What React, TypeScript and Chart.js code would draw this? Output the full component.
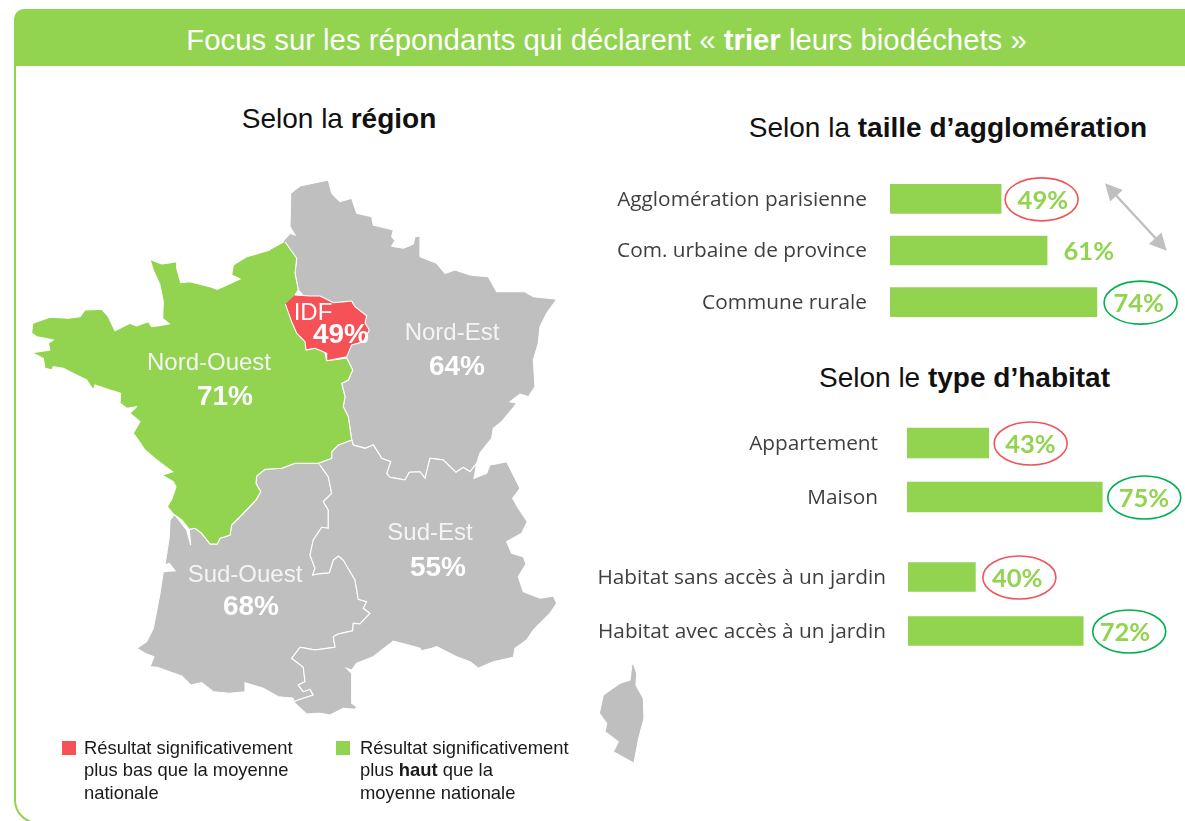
import React, { useEffect, useRef } from "react";
import { Chart, registerables } from "chart.js";

Chart.register(...registerables);

const GREEN = "#92D350";
const RED = "#F55157";
const GREY = "#BFBFBF";
const ELLIPSE_RED = "#F0555A";
const ELLIPSE_GREEN = "#00B050";
const LABEL = "#3F3F3F";

type P = number[];

const nordEst: P[] = [[283.3,241],[290,233.3],[295,235],[290,226.7],[290.7,193.3],[300,186],[328.3,180],[331.7,193.3],[340,201.7],[351.7,198.3],[356.7,213.3],[371.7,216.7],[373.3,225],[393.3,230],[391.7,236.7],[395,240.7],[391.7,246],[403.3,248.3],[413.3,244],[415,236.7],[420,236],[420,256.7],[436.7,263.3],[445,273.3],[455,270],[470,275],[488.3,276.7],[496.7,291.7],[525,291.7],[533.3,296.7],[556.7,299.3],[546.7,313.3],[540,326.7],[538.3,343.3],[533.3,360],[535,386.7],[528.3,396.7],[520,394],[510,401.7],[516.7,403.3],[501.7,421.7],[493.3,428.3],[491.7,438.3],[480,453],[476.7,463.3],[470,471.7],[463.3,467.3],[456,472.3],[443.3,460],[430,458.3],[425,478.3],[420,471.7],[409.3,472.3],[405,480],[390,477.3],[386.7,473.3],[390.7,461.7],[381.7,458.3],[373.3,445],[365,448.3],[353.3,445],[351.7,440],[348.3,416.7],[343.3,406.7],[345,396.7],[341.7,383.3],[348.3,380],[352.7,370],[346.7,358],[335,330],[298.3,290],[295,273.3],[296.7,258.3]];

const sudOuest: P[] = [[173.3,516],[170,520],[169.3,536.7],[165,565],[169.3,563.3],[175,570.7],[163.3,571.7],[160,593.3],[153.3,628.3],[146.7,641.7],[136.7,648.3],[145,653.3],[154,656.7],[150,666.7],[157.3,667.3],[181.7,676],[190.7,685],[201.7,682.7],[213.3,691.7],[229.3,693.3],[245,691.7],[245,682.7],[263.3,688.3],[278.3,696.7],[293.3,698.3],[293.3,701.7],[313.3,695],[310,689.3],[303.3,691.7],[298.3,685],[305,681.7],[303.3,667.3],[291.7,658.3],[300,647.3],[315,650],[335,647.3],[333.3,636.7],[338.3,634],[352.7,630.7],[353.3,623.3],[360,624],[370,613.3],[363.3,608.3],[366.7,601.7],[358.3,599.3],[355,580],[343.3,560],[338.3,556],[333.3,560],[329.3,572.7],[316.7,574],[312.7,575],[315,568.3],[310,555],[313.3,540],[321.7,527.3],[328.3,528.3],[328.3,510],[323.3,501.7],[331.7,493.3],[328.3,476.7],[320,465],[318.3,463.3],[295,463.3],[281.7,468.3],[265,469.3],[256.7,476],[256,483.3],[260.7,491.7],[256,500],[241.7,515],[231.7,525],[230,535],[220,538.3],[217.3,544],[210,544],[201.7,533.3],[195,528.3],[189.3,529.3],[190.7,545],[186.7,530],[175,515]];

const sudEst: P[] = [[318.3,463.3],[331.7,458.3],[331.7,451.7],[338.3,445],[351.7,440],[353.3,445],[365,448.3],[373.3,445],[381.7,458.3],[390.7,461.7],[386.7,473.3],[390,477.3],[405,480],[409.3,472.3],[420,471.7],[425,478.3],[430,458.3],[443.3,460],[456,472.3],[463.3,467.3],[470,471.7],[476.7,463.3],[474,478.3],[486.7,473.3],[490,465],[506.7,461.7],[511.7,471.7],[520,488.3],[512.7,498.3],[518.3,508.3],[527.3,521.7],[521.7,533.3],[506.7,541.7],[511.7,553.3],[523.3,556.7],[526,564],[518.3,576.7],[523.3,591.7],[540,598.3],[553.3,596],[556.7,603.3],[550,613.3],[533.3,630],[526.7,640],[515,648.3],[513.3,657.3],[493.3,661.7],[478.3,668.3],[470,661.7],[456.7,656.7],[436.7,646.7],[431.7,648.3],[421.7,650.7],[420,648.3],[393.3,641],[373.3,656.7],[356.7,663.3],[351.7,670],[346.7,668.3],[351.7,673.3],[351.7,703.3],[356.7,706.7],[355,709.3],[343.3,708.3],[330,715],[320,713.3],[306.7,714],[293.3,701.7],[313.3,695],[310,689.3],[303.3,691.7],[298.3,685],[305,681.7],[303.3,667.3],[291.7,658.3],[300,647.3],[315,650],[335,647.3],[333.3,636.7],[338.3,634],[352.7,630.7],[353.3,623.3],[360,624],[370,613.3],[363.3,608.3],[366.7,601.7],[358.3,599.3],[355,580],[343.3,560],[338.3,556],[333.3,560],[329.3,572.7],[316.7,574],[312.7,575],[315,568.3],[310,555],[313.3,540],[321.7,527.3],[328.3,528.3],[328.3,510],[323.3,501.7],[331.7,493.3],[328.3,476.7],[320,465]];

const nordOuest: P[] = [[285,241.7],[296.7,258.3],[295,273.3],[298.3,290],[295,295],[320,330],[326.7,360.7],[346.7,358],[352.7,370],[348.3,380],[341.7,383.3],[345,396.7],[343.3,406.7],[348.3,416.7],[351.7,440],[338.3,445],[331.7,451.7],[331.7,458.3],[318.3,463.3],[295,463.3],[281.7,468.3],[265,469.3],[256.7,476],[256,483.3],[260.7,491.7],[256,500],[241.7,515],[231.7,525],[230,535],[220,538.3],[217.3,544],[210,544],[201.7,533.3],[195,528.3],[189.3,529.3],[181.7,520],[173.3,514],[167.3,506.7],[171.7,499.3],[176,486.7],[173.3,481.7],[162,475],[172.7,471.7],[156.7,460],[145,450],[138.3,440],[133.3,433.3],[140,421.7],[130,413.3],[136.7,406.7],[126.7,408.3],[120,403.3],[120.7,393.3],[110,390],[95,385],[93.3,390],[86.7,380],[63.3,368.3],[53.3,366.7],[51.7,370],[45,368.3],[43.3,358.3],[31.7,352.7],[50,350],[48.3,343.3],[53.3,340],[36.7,336.7],[31.7,333.3],[32.7,323.3],[50,317.3],[68.3,318.3],[80,316.7],[85,310],[101.7,309.3],[108.3,316.7],[115,330.7],[130,323.3],[136.7,326],[148.3,321.7],[151.7,326.7],[169.3,324],[162.7,318.3],[163.3,301.7],[160,285],[153.3,270],[150,259.3],[161.7,264],[176.7,261.7],[176.7,268.3],[180.7,282.7],[190,281.7],[210,286.7],[217.3,289.3],[240,279],[231.7,275],[233.3,265],[246.7,256.7],[270,250]];

const idf: P[] = [[295,295],[310,296],[320,296],[333.3,302.7],[351.7,301],[355,306.7],[366.7,315.7],[365,323],[369.3,330],[363.3,341.7],[351.7,345],[346.7,356.7],[326.7,360.7],[326.7,353.3],[315,348.3],[306,350],[305,341.7],[296.7,333.3],[291.7,321.7],[285.3,304]];

const corse: P[] = [[633.3,663.3],[636.7,673.3],[636,685],[643.3,698.3],[644,718.3],[638.3,740],[634,763.3],[613.3,751.7],[618.3,741.7],[605,731.7],[606.7,723.3],[599.3,713.3],[603.3,695],[620,683.3],[630,680],[631.7,666.7]];

const agglomeration = ["Agglomération parisienne", "Com. urbaine de province", "Commune rurale"];
const agglomerationValues = [49, 61, 74];
const agglomerationMarks = ["low", "", "high"];

const logement = ["Appartement", "Maison"];
const logementValues = [43, 75];
const logementMarks = ["low", "high"];

const jardin = ["Habitat sans accès à un jardin", "Habitat avec accès à un jardin"];
const jardinValues = [40, 72];
const jardinMarks = ["low", "high"];

const valueLabels = {
  id: "valueLabels",
  afterDatasetsDraw(chart: any) {
    const { ctx } = chart;
    const ds = chart.data.datasets[0];
    const meta = chart.getDatasetMeta(0);
    ctx.save();
    meta.data.forEach((bar: any, i: number) => {
      const mark = ds.marks[i];
      if (mark) {
        ctx.beginPath();
        ctx.ellipse(bar.x + ds.ellipseOffset[i], bar.y + 0.5, 36.5, 21.5, 0, 0, Math.PI * 2);
        ctx.strokeStyle = mark === "low" ? ELLIPSE_RED : ELLIPSE_GREEN;
        ctx.lineWidth = 1.6;
        ctx.stroke();
      }
      ctx.fillStyle = GREEN;
      ctx.font = "bold 25.5px Lato";
      ctx.textAlign = "left";
      ctx.textBaseline = "middle";
      ctx.fillText(ds.data[i] + "%", bar.x + 16.5, bar.y + 1.5);
    });
    ctx.restore();
  },
};

function BarGroup(props: {
  left: number; top: number; height: number; axisWidth: number; max: number; pad: number; thickness: number;
  labels: string[]; values: number[]; marks: string[]; ellipseOffset: number[];
}) {
  const ref = useRef<HTMLCanvasElement>(null);
  useEffect(() => {
    const chart = new Chart(ref.current!, {
      type: "bar",
      data: {
        labels: props.labels,
        datasets: [{
          data: props.values, backgroundColor: GREEN, barThickness: props.thickness,
          marks: props.marks, ellipseOffset: props.ellipseOffset,
        } as any],
      },
      options: {
        indexAxis: "y", responsive: false, animation: false, events: [],
        layout: { padding: 0 },
        plugins: { legend: { display: false }, tooltip: { enabled: false } },
        scales: {
          x: { display: false, min: 20, max: props.max },
          y: {
            afterFit: (s: any) => { s.width = props.axisWidth; s.paddingTop = 0; s.paddingBottom = 0; },
            grid: { display: false, drawTicks: false },
            border: { display: false },
            ticks: { color: LABEL, padding: props.pad, labelOffset: 1, font: { family: "Open Sans", size: 20.8 }, autoSkip: false },
          },
        },
      },
      plugins: [valueLabels],
    } as any);
    return () => chart.destroy();
  }, []);
  return (
    <canvas ref={ref} width={1185 - props.left} height={props.height}
      style={{ position: "absolute", left: props.left, top: props.top, display: "block" }} />
  );
}

function region(label: string, pts: P[], color: string) {
  return {
    label,
    data: pts.map(([x, y]) => ({ x, y })),
    showLine: true,
    fill: "shape",
    tension: 0.001,
    pointRadius: 0,
    backgroundColor: color,
    borderColor: "#FFFFFF",
    borderWidth: 1.1,
  };
}

function FranceMap() {
  const ref = useRef<HTMLCanvasElement>(null);
  useEffect(() => {
    const chart = new Chart(ref.current!, {
      type: "scatter",
      data: {
        datasets: [
          region("Nord-Est", nordEst, GREY),
          region("Sud-Ouest", sudOuest, GREY),
          region("Sud-Est", sudEst, GREY),
          region("Nord-Ouest", nordOuest, GREEN),
          region("IDF", idf, RED),
          region("Corse", corse, GREY),
        ].reverse(),
      },
      options: {
        responsive: false, animation: false, events: [],
        layout: { padding: 0 },
        plugins: { legend: { display: false }, tooltip: { enabled: false } },
        scales: {
          x: { display: false, min: 0, max: 1185 },
          y: { display: false, min: 0, max: 821, reverse: true },
        },
      },
    } as any);
    return () => chart.destroy();
  }, []);
  return <canvas ref={ref} width={1185} height={821} style={{ position: "absolute", left: 0, top: 0, display: "block" }} />;
}

const SANS = "'Liberation Sans', Arial, sans-serif";

function T(p: { x: number; y: number; size: number; bold?: boolean; color?: string; children: React.ReactNode }) {
  return (
    <div style={{
      position: "absolute", left: p.x, top: p.y, transform: "translate(-50%,-50%)", whiteSpace: "nowrap",
      fontFamily: SANS, fontSize: p.size, fontWeight: p.bold ? 700 : 400, color: p.color ?? "#111", lineHeight: 1,
    }}>{p.children}</div>
  );
}

function Note(p: { x: number; color: string; squareX: number; lines: React.ReactNode[] }) {
  return (
    <>
      <div style={{ position: "absolute", left: p.squareX, top: 741, width: 14, height: 14, background: p.color }} />
      {p.lines.map((l, i) => (
        <div key={i} style={{
          position: "absolute", left: p.x, top: 738 + i * 22.3, fontFamily: SANS, fontSize: 18.4, lineHeight: "20px",
          color: "#1a1a1a", whiteSpace: "nowrap",
        }}>{l}</div>
      ))}
    </>
  );
}

export default function App() {
  useEffect(() => { document.body.style.margin = "0"; }, []);
  return (
    <div style={{ position: "relative", width: 1185, height: 821, overflow: "hidden", background: "#fff" }}>
      <div style={{
        position: "absolute", left: 14, top: 20, width: 1300, height: 804,
        borderLeft: `2px solid ${GREEN}`, borderBottom: `2px solid ${GREEN}`, borderBottomLeftRadius: 24, boxSizing: "border-box",
      }} />
      <div style={{
        position: "absolute", left: 14, top: 9, width: 1180, height: 57, background: GREEN, borderTopLeftRadius: 10,
      }} />
      <T x={606.5} y={40} size={29.3} color="#fff">Focus sur les répondants qui déclarent « <b>trier</b> leurs biodéchets »</T>

      <T x={339} y={119} size={28}>Selon la <b>région</b></T>
      <T x={948} y={128} size={28}>Selon la <b>taille d’agglomération</b></T>
      <T x={964.5} y={378} size={28}>Selon le <b>type d’habitat</b></T>

      <FranceMap />

      <T x={209} y={362} size={24} color="#F4F4F4">Nord-Ouest</T>
      <T x={225} y={396} size={28} bold color="#fff">71%</T>
      <T x={452} y={332} size={24} color="#F4F4F4">Nord-Est</T>
      <T x={457} y={366} size={28} bold color="#fff">64%</T>
      <T x={430} y={532} size={24} color="#F4F4F4">Sud-Est</T>
      <T x={438} y={567} size={28} bold color="#fff">55%</T>
      <T x={245} y={574} size={24} color="#F4F4F4">Sud-Ouest</T>
      <T x={251} y={606} size={28} bold color="#fff">68%</T>
      <T x={313} y={312} size={24} color="#fff">IDF</T>
      <T x={341} y={334} size={28} bold color="#fff">49%</T>

      <BarGroup left={590} top={173} height={155} axisWidth={300} max={97} pad={23} thickness={29}
        labels={agglomeration} values={agglomerationValues} marks={agglomerationMarks} ellipseOffset={[40.5, 0, 43.7]} />
      <BarGroup left={590} top={416} height={108} axisWidth={317} max={98.3} pad={29} thickness={30}
        labels={logement} values={logementValues} marks={logementMarks} ellipseOffset={[42, 42]} />
      <BarGroup left={590} top={550} height={108} axisWidth={318} max={102.2} pad={22} thickness={29}
        labels={jardin} values={jardinValues} marks={jardinMarks} ellipseOffset={[44, 46]} />

      <svg width={1185} height={821} style={{ position: "absolute", left: 0, top: 0, pointerEvents: "none" }}>
        <line x1={1112} y1={191} x2={1160} y2={243} stroke={GREY} strokeWidth={2.4} />
        <polygon points="1105,183.3 1110.2,201.5 1122.8,190" fill={GREY} />
        <polygon points="1166.7,250.7 1148.9,243.9 1161.5,232.5" fill={GREY} />
      </svg>

      <Note squareX={62} x={84} color={RED} lines={["Résultat significativement", "plus bas que la moyenne", "nationale"]} />
      <Note squareX={336} x={360} color={GREEN} lines={["Résultat significativement", <>plus <b>haut</b> que la</>, "moyenne nationale"]} />
    </div>
  );
}
